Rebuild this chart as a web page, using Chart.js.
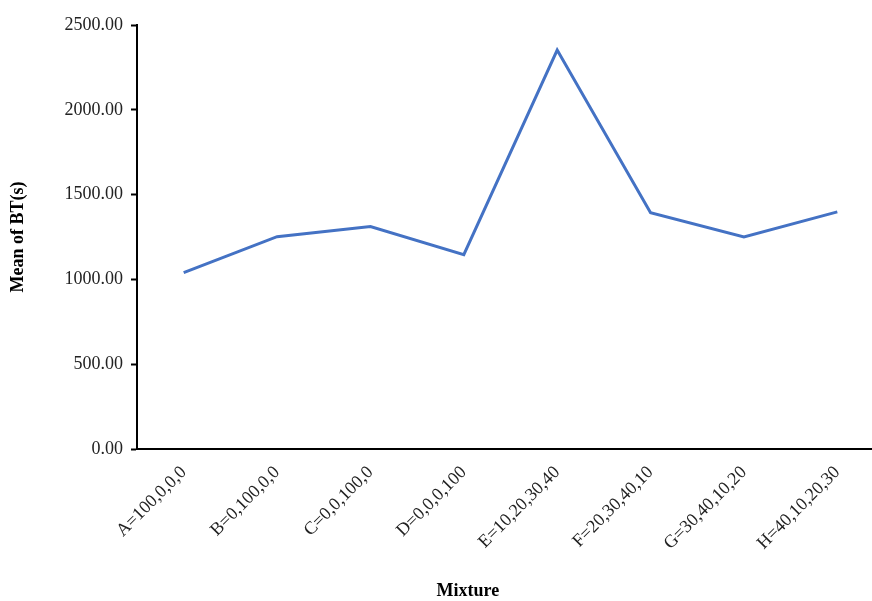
<!DOCTYPE html>
<html>
<head>
<meta charset="utf-8">
<script src="https://cdn.jsdelivr.net/npm/chart.js@4.4.1/dist/chart.umd.min.js"></script>
<style>
  html, body { margin: 0; padding: 0; background: #fff; overflow: hidden; }
  #wrap { width: 890px; height: 601px; }
</style>
</head>
<body>
<div id="wrap"><canvas id="btChart" width="890" height="601"></canvas></div>
<script>
// data
const mixtures = ['A=100,0,0,0', 'B=0,100,0,0', 'C=0,0,100,0', 'D=0,0,0,100',
  'E=10,20,30,40', 'F=20,30,40,10', 'G=30,40,10,20', 'H=40,10,20,30'];
const meanBT = [1040, 1252, 1312, 1146, 2352, 1393, 1251, 1398];
const yTicks = [0, 500, 1000, 1500, 2000, 2500];

const serif = '"Liberation Serif", "Times New Roman", serif';

// x title sits left of the plot centre in the original, so it is drawn here
const xTitle = {
  id: 'xTitle',
  afterDraw(chart) {
    const ctx = chart.ctx;
    const area = chart.chartArea;
    ctx.save();
    ctx.font = 'bold 18px ' + serif;
    ctx.fillStyle = '#000';
    ctx.textAlign = 'center';
    ctx.textBaseline = 'middle';
    ctx.fillText('Mixture', area.left + (area.right - area.left) * 0.443, 591);
    ctx.restore();
  }
};

const chart = new Chart(document.getElementById('btChart'), {
  type: 'line',
  data: {
    labels: mixtures,
    datasets: [{
      data: meanBT,
      borderColor: '#4472C4',
      borderWidth: 3,
      pointRadius: 0,
      tension: 0,
      fill: false
    }]
  },
  options: {
    responsive: false,
    animation: false,
    devicePixelRatio: 1,
    layout: { padding: { top: 25, right: 6, bottom: 0, left: 0 } },
    plugins: { legend: { display: false }, tooltip: { enabled: false } },
    scales: {
      x: {
        offset: true,
        grid: { display: false, drawTicks: false },
        border: { color: '#000', width: 2 },
        ticks: {
          color: '#222',
          font: { family: serif, size: 18 },
          maxRotation: 45,
          minRotation: 45,
          padding: 13
        },
        afterFit(scale) { scale.height = 152; }
      },
      y: {
        min: 0,
        max: 2500,
        afterBuildTicks(scale) { scale.ticks = yTicks.map(v => ({ value: v })); },
        grid: { display: true, drawOnChartArea: false, drawTicks: true, tickLength: 6, tickColor: '#000', tickWidth: 2 },
        border: { color: '#000', width: 2 },
        ticks: {
          color: '#222',
          font: { family: serif, size: 18 },
          padding: 8,
          callback: v => Number(v).toFixed(2)
        },
        title: {
          display: true,
          text: 'Mean of BT(s)',
          color: '#000',
          font: { family: serif, size: 18, weight: 'bold' },
          padding: { top: 8, bottom: 0 }
        },
        afterFit(scale) { scale.width = 137; }
      }
    }
  },
  plugins: [xTitle]
});
</script>
</body>
</html>
